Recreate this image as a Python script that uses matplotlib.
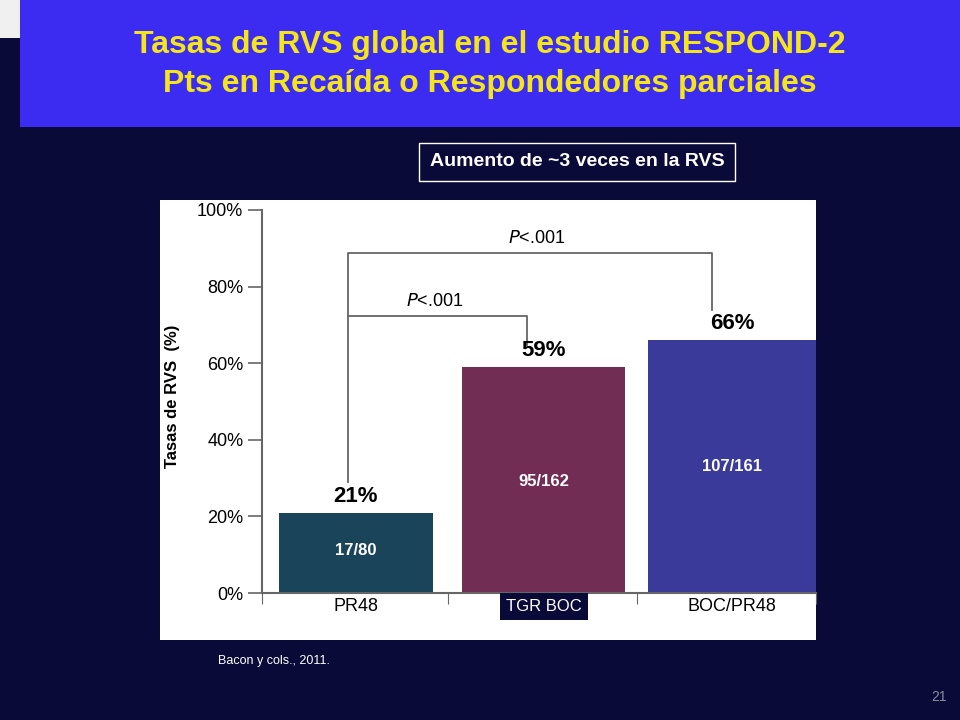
import matplotlib.pyplot as plt
from matplotlib.patches import Rectangle

plt.rcParams['font.family'] = 'Liberation Sans'

categories = ['PR48', 'TGR BOC', 'BOC/PR48']
rvs_pct = [21, 59, 66]
fractions = ['17/80', '95/162', '107/161']
bar_colors = ['#1a4459', '#722d55', '#3a3a9a']
yticks = [0, 20, 40, 60, 80, 100]

W, H = 960, 720
fig = plt.figure(figsize=(9.6, 7.2), dpi=100)
fig.patch.set_facecolor('#0a0a38')

def fx(px):
    return px / W

def fy(py):
    return 1 - py / H

def rect(x0, y0, x1, y1, color):
    fig.patches.append(Rectangle((fx(x0), fy(y1)), fx(x1 - x0), (y1 - y0) / H,
                                 transform=fig.transFigure, facecolor=color,
                                 edgecolor='none', zorder=-5))

# title banner
rect(20, 0, 960, 127, '#3c2cf2')
rect(0, 0, 20, 38, '#f0f0f0')
fig.text(fx(490), fy(45), 'Tasas de RVS global en el estudio RESPOND-2', color='#f5e61a',
         fontsize=23, fontweight='bold', ha='center', va='center')
fig.text(fx(490), fy(84), 'Pts en Recaída o Respondedores parciales', color='#f5e61a',
         fontsize=23, fontweight='bold', ha='center', va='center')

# callout box
fig.text(fx(577), fy(162), 'Aumento de ~3 veces en la RVS', color='white', fontsize=14,
         fontweight='bold', ha='center', va='center',
         bbox=dict(facecolor='none', edgecolor='white', boxstyle='square,pad=0.55', lw=1))

# white panel
rect(160, 200, 816, 640, 'white')

# axes: 0% at y=593, 100% at y=210
ppu = (593 - 210) / 100
ymax = (593 - 200) / ppu
ax = fig.add_axes([fx(262), fy(593), fx(816 - 262), (593 - 200) / H])
ax.set_facecolor('none')
ax.set_xlim(262, 816)
ax.set_ylim(0, ymax)

centers = [356, 544, 732]
widths = [154, 163, 168]
frac_y = [11, 29, 33]
ax.bar(centers, rvs_pct, width=widths, color=bar_colors, zorder=2)

for c, v, f, fyv in zip(centers, rvs_pct, fractions, frac_y):
    ax.text(c, v + 1.5, f'{v}%', ha='center', va='bottom', fontsize=16, fontweight='bold')
    ax.text(c, fyv, f, ha='center', va='center', color='white', fontsize=12, fontweight='bold')

ax.spines['top'].set_visible(False)
ax.spines['right'].set_visible(False)
ax.spines['left'].set_bounds(0, 100)
for s in ('left', 'bottom'):
    ax.spines[s].set_color('#666666')
    ax.spines[s].set_linewidth(1.5)
ax.set_yticks(yticks)
ax.set_yticklabels([f'{t}%' for t in yticks], fontsize=13)
ax.tick_params(axis='y', direction='out', length=10, width=1.2, color='#666666')
ax.set_xticks([262, 448, 637, 816])
ax.set_xticklabels([])
ax.tick_params(axis='x', direction='out', length=8, color='#666666')
for c, lab in zip(centers, categories):
    if lab == 'TGR BOC':
        ax.text(c, -1.5, lab, ha='center', va='top', color='white', fontsize=12,
                bbox=dict(facecolor='#0a0a38', edgecolor='none', boxstyle='square,pad=0.35'))
    else:
        ax.text(c, -1.2, lab, ha='center', va='top', fontsize=13)
ax.set_ylabel('Tasas de RVS  (%)', fontsize=12, fontweight='bold', labelpad=12)

# significance brackets
kw = dict(color='#666666', lw=1.3, clip_on=False)
y1 = (593 - 316) / ppu
ax.plot([centers[0] - 8, centers[0] - 8, 527, 527], [rvs_pct[0] + 8, y1, y1, (593 - 345) / ppu], **kw)
ax.text(435, y1 + 1.5, '$P$<.001', ha='center', va='bottom', fontsize=13)
y2 = (593 - 253) / ppu
ax.plot([centers[0] - 8, centers[0] - 8, 712, 712], [y1, y2, y2, (593 - 310) / ppu], **kw)
ax.text(537, y2 + 1.5, '$P$<.001', ha='center', va='bottom', fontsize=13)

fig.text(fx(218), fy(661), 'Bacon y cols., 2011.', color='white', fontsize=9, va='center')
fig.text(fx(947), fy(697), '21', color='#8a8a9a', fontsize=10, ha='right', va='center')

fig.savefig('out.png', dpi=100, facecolor=fig.get_facecolor())
